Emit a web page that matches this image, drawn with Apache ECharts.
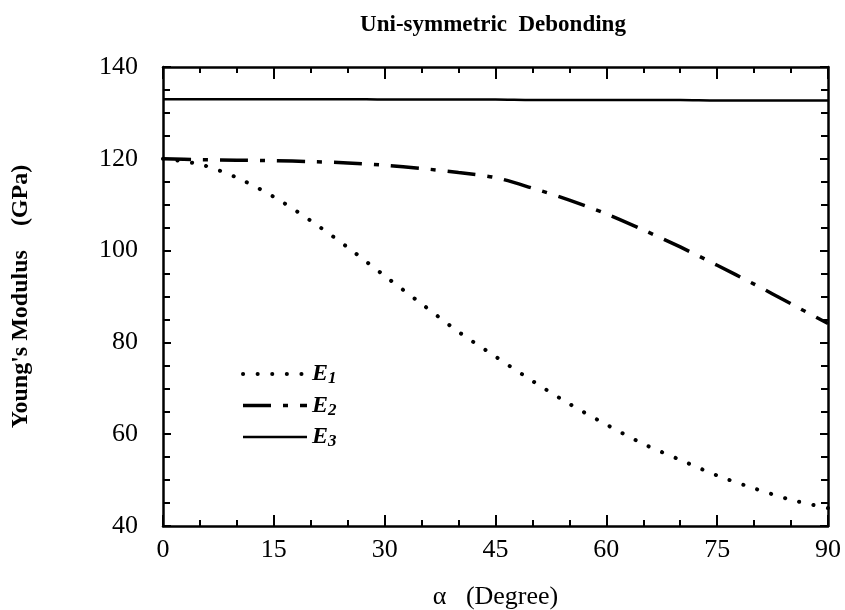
<!DOCTYPE html>
<html>
<head>
<meta charset="utf-8">
<script src="https://cdn.jsdelivr.net/npm/echarts@6/dist/echarts.min.js"></script>
<style>
html,body{margin:0;padding:0;background:#fff;}
#chart{width:845px;height:610px;}
</style>
</head>
<body>
<div id="chart"></div>
<script>
// Data
var angles = [0, 5, 10, 15, 20, 25, 30, 35, 40, 45, 50, 55, 60, 65, 70, 75, 80, 85, 90];
var E1 = [120, 118.8, 115.9, 111.7, 106.5, 100.7, 94.5, 88.4, 82.3, 76.9, 71.6, 66.6, 62.1, 57.9, 54.4, 51.0, 48.2, 45.7, 43.9];
var E2 = [120, 119.8, 119.7, 119.6, 119.4, 119.1, 118.6, 117.9, 117.0, 115.9, 113.6, 111.0, 108.0, 104.5, 100.8, 96.8, 92.7, 88.4, 84.1];
var E3 = [133, 133, 133, 133, 133, 133, 132.9, 132.9, 132.9, 132.9, 132.8, 132.8, 132.8, 132.8, 132.8, 132.7, 132.7, 132.7, 132.7];
var seriesNames = ['E1', 'E2', 'E3'];
var xTicks = [0, 15, 30, 45, 60, 75, 90];
var yTicks = [40, 60, 80, 100, 120, 140];

function pairs(ys) { return angles.map(function (a, i) { return [a, ys[i]]; }); }

var FONT = '"Liberation Serif", "DejaVu Serif", serif';
var chart = echarts.init(document.getElementById('chart'), null, {renderer: 'canvas'});

var lineStyles = [
  {color: '#000', width: 4, type: [0.1, 14.5], cap: 'round'},
  {color: '#000', width: 3.5, type: [28, 12, 5, 12], cap: 'butt'},
  {color: '#000', width: 2.5, type: 'solid', cap: 'butt'}
];

var axisCommon = {
  type: 'value',
  axisLine: {show: true, onZero: false, lineStyle: {color: '#000', width: 2.5}},
  splitLine: {show: false},
  minorSplitLine: {show: false}
};

chart.setOption({
  backgroundColor: '#fff',
  animation: false,
  title: {
    text: 'Uni-symmetric  Debonding',
    left: 488, top: 9, textAlign: 'center',
    textStyle: {fontFamily: FONT, fontWeight: 'bold', fontSize: 23, color: '#000'}
  },
  grid: {left: 163, right: 17, top: 67, bottom: 84, containLabel: false, outerBoundsMode: 'none'},
  legend: {
    orient: 'vertical', left: 241, top: 362, padding: 0,
    itemWidth: 64, itemHeight: 14, itemGap: 6,
    data: seriesNames.map(function (n, i) { return {name: n, lineStyle: lineStyles[i]}; }),
    itemStyle: {opacity: 0},
    formatter: function (n) { return '{e|E}{s|' + n.slice(1) + '}'; },
    textStyle: {
      color: '#000', fontFamily: FONT,
      rich: {
        e: {fontFamily: FONT, fontStyle: 'italic', fontWeight: 'bold', fontSize: 24, color: '#000'},
        s: {fontFamily: FONT, fontStyle: 'italic', fontWeight: 'bold', fontSize: 17, color: '#000', padding: [10, 0, 0, 0]}
      }
    }
  },
  xAxis: [
    Object.assign({}, axisCommon, {
      position: 'bottom', min: xTicks[0], max: xTicks[xTicks.length - 1], interval: 15,
      name: 'α   (Degree)', nameLocation: 'middle', nameGap: 58,
      nameTextStyle: {fontFamily: FONT, fontSize: 26, color: '#000'},
      axisTick: {show: true, inside: true, length: 11, lineStyle: {color: '#000', width: 2}},
      minorTick: {show: true, splitNumber: 3, length: 6, lineStyle: {color: '#000', width: 2}},
      axisLabel: {fontFamily: FONT, fontSize: 26, color: '#000', margin: 11}
    }),
    Object.assign({}, axisCommon, {
      position: 'top', min: xTicks[0], max: xTicks[xTicks.length - 1], interval: 15,
      axisTick: {show: true, inside: true, length: 12, lineStyle: {color: '#000', width: 2}},
      minorTick: {show: true, splitNumber: 3, length: 6, lineStyle: {color: '#000', width: 2}},
      axisLabel: {show: false}
    })
  ],
  yAxis: [
    Object.assign({}, axisCommon, {
      position: 'left', min: yTicks[0], max: yTicks[yTicks.length - 1], interval: 20,
      name: "Young's Modulus    (GPa)", nameLocation: 'middle', nameGap: 130, nameRotate: 90,
      nameTextStyle: {fontFamily: FONT, fontWeight: 'bold', fontSize: 24, color: '#000'},
      axisTick: {show: true, inside: true, length: 8, lineStyle: {color: '#000', width: 2}},
      minorTick: {show: true, splitNumber: 4, length: 7, lineStyle: {color: '#000', width: 2}},
      axisLabel: {fontFamily: FONT, fontSize: 26, color: '#000', margin: 25}
    }),
    Object.assign({}, axisCommon, {
      position: 'right', min: yTicks[0], max: yTicks[yTicks.length - 1], interval: 20,
      axisTick: {show: true, inside: true, length: 8, lineStyle: {color: '#000', width: 2}},
      minorTick: {show: true, splitNumber: 4, length: 7, lineStyle: {color: '#000', width: 2}},
      axisLabel: {show: false}
    })
  ],
  series: seriesNames.map(function (n, i) {
    return {
      name: n, type: 'line', data: pairs([E1, E2, E3][i]), smooth: 0.3, symbol: 'none',
      lineStyle: lineStyles[i], itemStyle: {color: '#000'}
    };
  })
});
</script>
</body>
</html>
